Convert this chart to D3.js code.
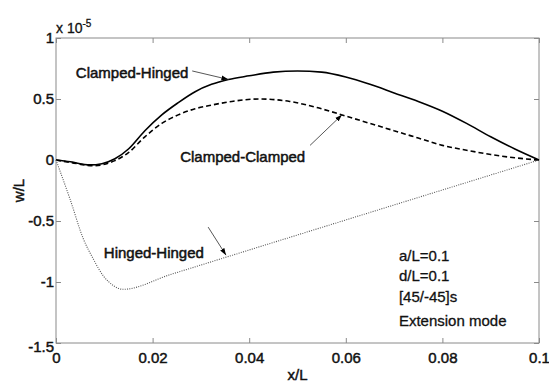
<!DOCTYPE html>
<html><head><meta charset="utf-8">
<script src="https://cdn.jsdelivr.net/npm/d3@7"></script>
<style>
body{margin:0;background:#fff;}
text{font-family:"Liberation Sans",Arial,sans-serif;fill:#111;}
</style></head>
<body><svg id="c" width="549" height="382"></svg>
<script>
// ---- data (w/L in units of 1e-5) ----
const xTicks = [0, 0.02, 0.04, 0.06, 0.08, 0.1];
const xTickLabels = ["0", "0.02", "0.04", "0.06", "0.08", "0.1"];
const yTicks = [1, 0.5, 0, -0.5, -1, -1.5];
const yTickLabels = ["1", "0.5", "0", "-0.5", "-1", "-1.5"];

const chX = [0, 0.003, 0.007, 0.0095, 0.0122, 0.015, 0.0184, 0.0219, 0.0253, 0.0288, 0.0322, 0.0357, 0.040, 0.045, 0.050, 0.055, 0.060, 0.065, 0.070, 0.075, 0.080, 0.085, 0.090, 0.095, 0.1];
const chY = [0, -0.015, -0.04, -0.03, 0.01, 0.09, 0.24, 0.37, 0.47, 0.56, 0.62, 0.66, 0.69, 0.72, 0.73, 0.72, 0.68, 0.62, 0.55, 0.48, 0.40, 0.30, 0.19, 0.09, 0];

const ccX = [0, 0.003, 0.0077, 0.0122, 0.015, 0.0184, 0.0219, 0.0253, 0.0288, 0.0322, 0.0364, 0.042, 0.0484, 0.054, 0.060, 0.065, 0.070, 0.075, 0.080, 0.085, 0.090, 0.095, 0.1];
const ccY = [0, -0.02, -0.047, -0.005, 0.06, 0.19, 0.30, 0.37, 0.42, 0.45, 0.48, 0.50, 0.48, 0.43, 0.36, 0.30, 0.24, 0.18, 0.12, 0.08, 0.045, 0.018, 0];

const hhX = [0, 0.0029, 0.0057, 0.0077, 0.0098, 0.0119, 0.0139, 0.0236, 0.1];
const hhY = [0, -0.32, -0.65, -0.81, -0.95, -1.03, -1.06, -0.94, 0];

const seriesNames = ["Clamped-Hinged", "Clamped-Clamped", "Hinged-Hinged"];
const infoLines = ["a/L=0.1", "d/L=0.1", "[45/-45]s", "Extension mode"];

// ---- layout ----
const svg = d3.select("#c");
const m = {left:56, top:38, right:10, bottom:39};
const W = 549 - m.left - m.right, H = 382 - m.top - m.bottom;
const x = d3.scaleLinear().domain([0, 0.1]).range([0, W]);
const y = d3.scaleLinear().domain([-1.5, 1]).range([H, 0]);
const g = svg.append("g").attr("transform", `translate(${m.left},${m.top})`);

const axisColor = "#8a8a8a";
function styleAxis(sel, labels){
  sel.select(".domain").remove();
  sel.selectAll(".tick line").attr("stroke", axisColor);
  sel.selectAll(".tick text").attr("font-size", 15).attr("fill", "#111")
     .attr("stroke","#111").attr("stroke-width",0.45)
     .attr("font-family", "Liberation Sans, Arial, sans-serif");
  if(!labels) sel.selectAll(".tick text").remove();
}
const gx = g.append("g").attr("transform", `translate(0,${H})`)
  .call(d3.axisBottom(x).tickValues(xTicks).tickFormat((d,i)=>xTickLabels[i]).tickSize(-5).tickPadding(9));
styleAxis(gx, true);
const gxt = g.append("g").call(d3.axisTop(x).tickValues(xTicks).tickSize(-5));
styleAxis(gxt, false);
const gy = g.append("g")
  .call(d3.axisLeft(y).tickValues(yTicks).tickFormat((d,i)=>yTickLabels[i]).tickSize(-5).tickPadding(2));
styleAxis(gy, true);
gy.selectAll(".tick text").filter(d=>d===-1.5).attr("dy","0.55em");
const gyr = g.append("g").attr("transform", `translate(${W},0)`).call(d3.axisRight(y).tickValues(yTicks).tickSize(-5));
styleAxis(gyr, false);

g.append("rect").attr("x",0).attr("y",0).attr("width",W).attr("height",H)
  .attr("fill","none").attr("stroke",axisColor).attr("stroke-width",1);

// ---- lines ----
const line = d3.line().x(d=>x(d[0])).y(d=>y(d[1])).curve(d3.curveMonotoneX);
g.append("path").datum(d3.zip(chX, chY)).attr("d", line)
  .attr("fill","none").attr("stroke","#000").attr("stroke-width",1.6);
g.append("path").datum(d3.zip(ccX, ccY)).attr("d", line)
  .attr("fill","none").attr("stroke","#000").attr("stroke-width",1.6).attr("stroke-dasharray","5,3");
g.append("path").datum(d3.zip(hhX, hhY)).attr("d", line)
  .attr("fill","none").attr("stroke","#555").attr("stroke-width",1.1).attr("stroke-dasharray","1,1.3");

// ---- annotations ----
svg.append("defs").append("marker").attr("id","ah").attr("viewBox","0 0 10 10")
  .attr("refX",10).attr("refY",5).attr("markerWidth",7).attr("markerHeight",7)
  .attr("orient","auto").attr("markerUnits","userSpaceOnUse")
  .append("path").attr("d","M0,1.5 L10,5 L0,8.5 Z").attr("fill","#000");

const labelFont = 15;
function label(txt, dx, dy){
  g.append("text").attr("x", x(dx)).attr("y", y(dy)).attr("font-size", labelFont)
   .attr("stroke","#111").attr("stroke-width",0.5).text(txt);
}
function arrow(x1,y1,x2,y2){
  g.append("line").attr("x1",x(x1)).attr("y1",y(y1)).attr("x2",x(x2)).attr("y2",y(y2))
   .attr("stroke","#444").attr("stroke-width",0.9).attr("marker-end","url(#ah)");
}
label(seriesNames[0], 0.0041, 0.675);
arrow(0.0282, 0.73, 0.0357, 0.66);
label(seriesNames[1], 0.0257, -0.02);
arrow(0.0526, 0.12, 0.0592, 0.37);
label(seriesNames[2], 0.0099, -0.80);
arrow(0.0315, -0.55, 0.0352, -0.78);

const infoY = [-0.828, -0.992, -1.164, -1.361];
infoLines.forEach((t,i)=>{
  g.append("text").attr("x", x(0.071)).attr("y", y(infoY[i])).attr("font-size", 15)
   .attr("stroke","#111").attr("stroke-width",0.3).text(t);
});

// exponent
const ex = svg.append("text").attr("x", m.left).attr("y", 33).attr("font-size", 14)
  .attr("stroke","#111").attr("stroke-width",0.3);
ex.append("tspan").text("x 10");
ex.append("tspan").attr("font-size", 10).attr("dy", -6).text("-5");

// axis titles
svg.append("text").attr("x", m.left + W/2).attr("y", 380).attr("text-anchor","middle")
  .attr("font-size", 15).attr("stroke","#111").attr("stroke-width",0.45).text("x/L");
svg.append("text").attr("transform", `translate(24,${m.top + H/2}) rotate(-90)`)
  .attr("text-anchor","middle").attr("font-size", 15).attr("stroke","#111").attr("stroke-width",0.45).text("w/L");
</script></body></html>
